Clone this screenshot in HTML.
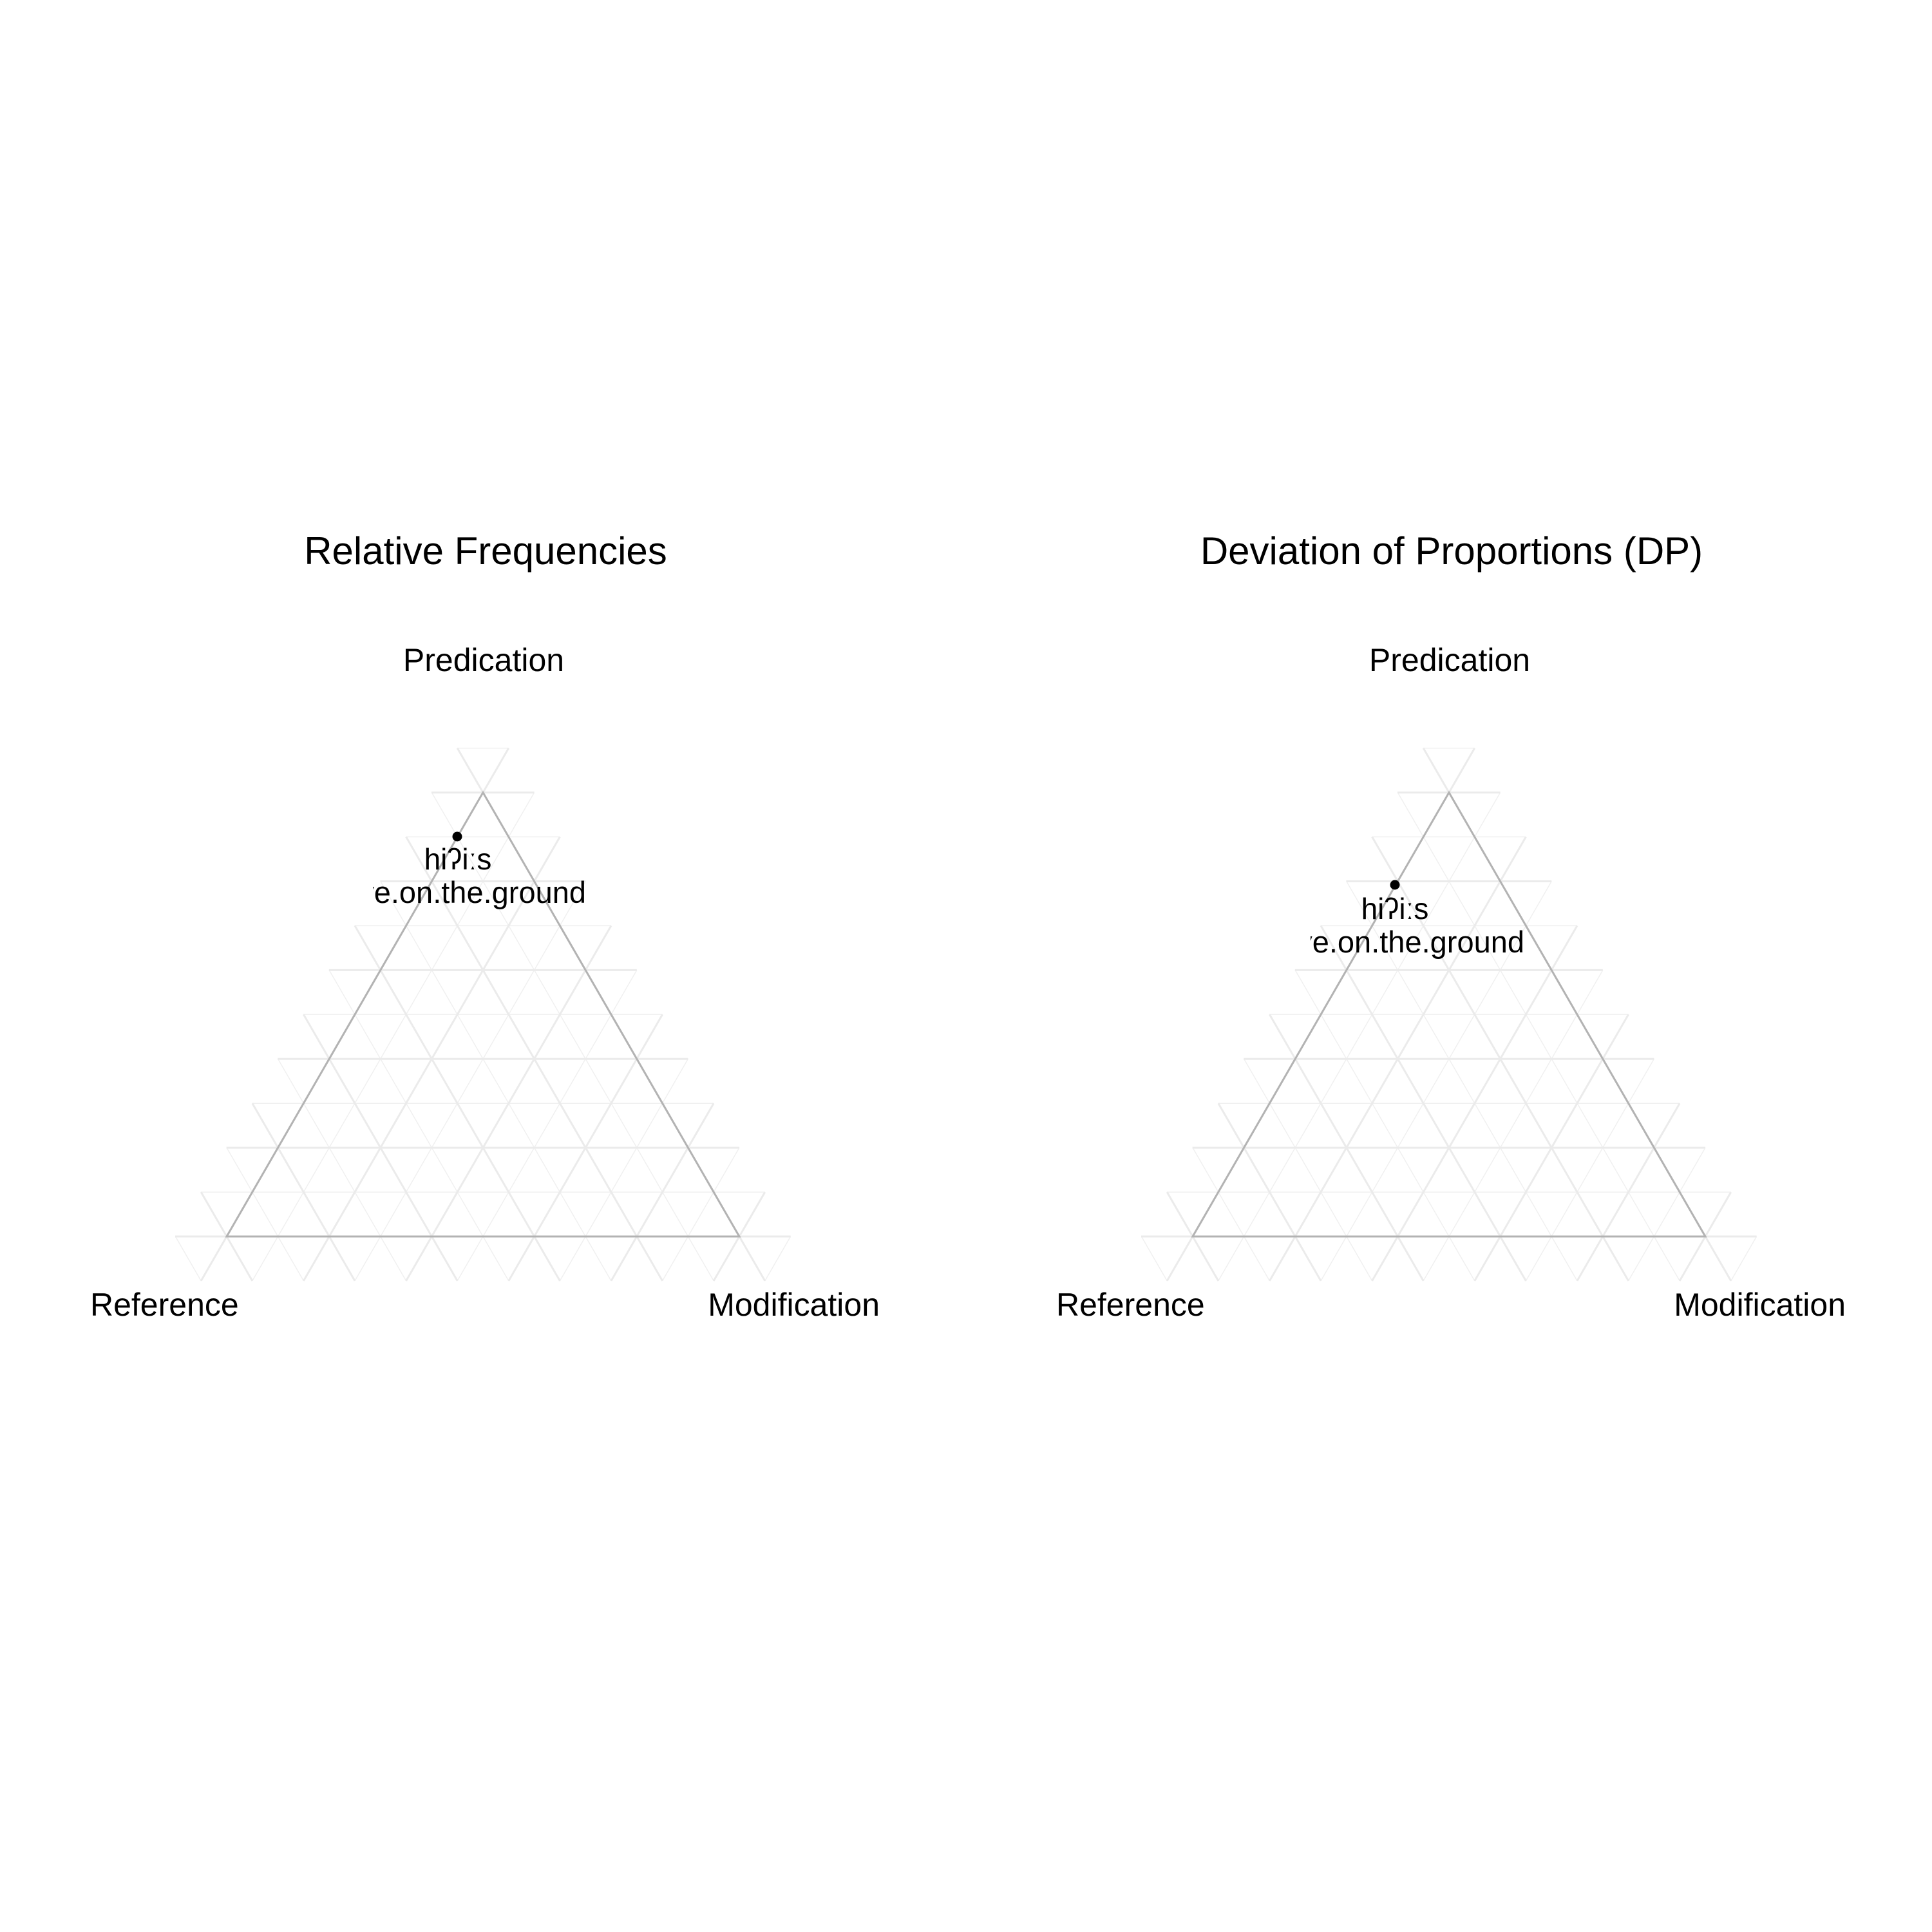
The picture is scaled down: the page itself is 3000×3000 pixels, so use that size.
<!DOCTYPE html>
<html><head><meta charset="utf-8"><style>
html,body{margin:0;padding:0;background:#fff;}
svg{display:block;}
text{font-family:"Liberation Sans",Arial,sans-serif;fill:#000;}
</style></head><body>
<svg width="3000" height="3000" viewBox="0 0 3000 3000" xmlns="http://www.w3.org/2000/svg">
<defs>
<clipPath id="c1"><rect x="579" y="1300" width="500" height="150"/></clipPath>
<clipPath id="c2"><rect x="2035" y="1380" width="500" height="150"/></clipPath>
</defs>
<g id="grid" fill="none">
<g stroke="#f0f0f0" stroke-width="1.5">
<line x1="311.8" y1="1851.1" x2="1187.8" y2="1851.1"/>
<line x1="391.4" y1="1713.2" x2="1108.2" y2="1713.2"/>
<line x1="471" y1="1575.3" x2="1028.6" y2="1575.3"/>
<line x1="550.6" y1="1437.4" x2="949" y2="1437.4"/>
<line x1="630.2" y1="1299.5" x2="869.4" y2="1299.5"/>
<line x1="709.8" y1="1161.7" x2="789.8" y2="1161.7"/>
<line x1="1108.2" y1="1988.9" x2="670.4" y2="1230.6"/>
<line x1="949" y1="1988.9" x2="590.8" y2="1368.5"/>
<line x1="789.8" y1="1988.9" x2="511.2" y2="1506.4"/>
<line x1="630.6" y1="1988.9" x2="431.6" y2="1644.2"/>
<line x1="471.4" y1="1988.9" x2="352" y2="1782.1"/>
<line x1="312.2" y1="1988.9" x2="272.4" y2="1920"/>
<line x1="391.8" y1="1988.9" x2="829.6" y2="1230.6"/>
<line x1="551" y1="1988.9" x2="909.2" y2="1368.5"/>
<line x1="710.2" y1="1988.9" x2="988.8" y2="1506.4"/>
<line x1="869.4" y1="1988.9" x2="1068.4" y2="1644.2"/>
<line x1="1028.6" y1="1988.9" x2="1148" y2="1782.1"/>
<line x1="1187.8" y1="1988.9" x2="1227.6" y2="1920"/>
</g>
<g stroke="#ebebeb" stroke-width="3">
<line x1="272" y1="1920" x2="1227.6" y2="1920"/>
<line x1="351.6" y1="1782.1" x2="1148" y2="1782.1"/>
<line x1="431.2" y1="1644.2" x2="1068.4" y2="1644.2"/>
<line x1="510.8" y1="1506.4" x2="988.8" y2="1506.4"/>
<line x1="590.4" y1="1368.5" x2="909.2" y2="1368.5"/>
<line x1="670" y1="1230.6" x2="829.6" y2="1230.6"/>
<line x1="1187.8" y1="1988.9" x2="710.2" y2="1161.7"/>
<line x1="1028.6" y1="1988.9" x2="630.6" y2="1299.5"/>
<line x1="869.4" y1="1988.9" x2="551" y2="1437.4"/>
<line x1="710.2" y1="1988.9" x2="471.4" y2="1575.3"/>
<line x1="551" y1="1988.9" x2="391.8" y2="1713.2"/>
<line x1="391.8" y1="1988.9" x2="312.2" y2="1851.1"/>
<line x1="312.2" y1="1988.9" x2="789.8" y2="1161.7"/>
<line x1="471.4" y1="1988.9" x2="869.4" y2="1299.5"/>
<line x1="630.6" y1="1988.9" x2="949" y2="1437.4"/>
<line x1="789.8" y1="1988.9" x2="1028.6" y2="1575.3"/>
<line x1="949" y1="1988.9" x2="1108.2" y2="1713.2"/>
<line x1="1108.2" y1="1988.9" x2="1187.8" y2="1851.1"/>
</g>
<polygon points="352,1920 750,1230.6 1148,1920" stroke="#b3b3b3" stroke-width="3"/>
</g>
<use href="#grid" transform="translate(1500,0)"/>

<text x="754" y="876" font-size="60" text-anchor="middle">Relative Frequencies</text>
<text x="2254" y="876" font-size="60" text-anchor="middle">Deviation of Proportions (DP)</text>
<text x="751" y="1042" font-size="50" text-anchor="middle">Predication</text>
<text x="2251" y="1042" font-size="50" text-anchor="middle">Predication</text>
<text x="140" y="2043" font-size="50">Reference</text>
<text x="1640" y="2043" font-size="50">Reference</text>
<text x="1366" y="2043" font-size="50" text-anchor="end">Modification</text>
<text x="2866" y="2043" font-size="50" text-anchor="end">Modification</text>

<circle cx="710" cy="1299" r="7.5" fill="#000"/>
<text x="711" y="1350" font-size="46" text-anchor="middle">hiʔiːs</text>
<text x="910" y="1402" font-size="47" text-anchor="end" clip-path="url(#c1)">ve.on.the.ground</text>

<circle cx="2166" cy="1374" r="7.5" fill="#000"/>
<text x="2166" y="1427" font-size="46" text-anchor="middle">hiʔiːs</text>
<text x="2367" y="1479" font-size="47" text-anchor="end" clip-path="url(#c2)">ve.on.the.ground</text>
</svg>
</body></html>
